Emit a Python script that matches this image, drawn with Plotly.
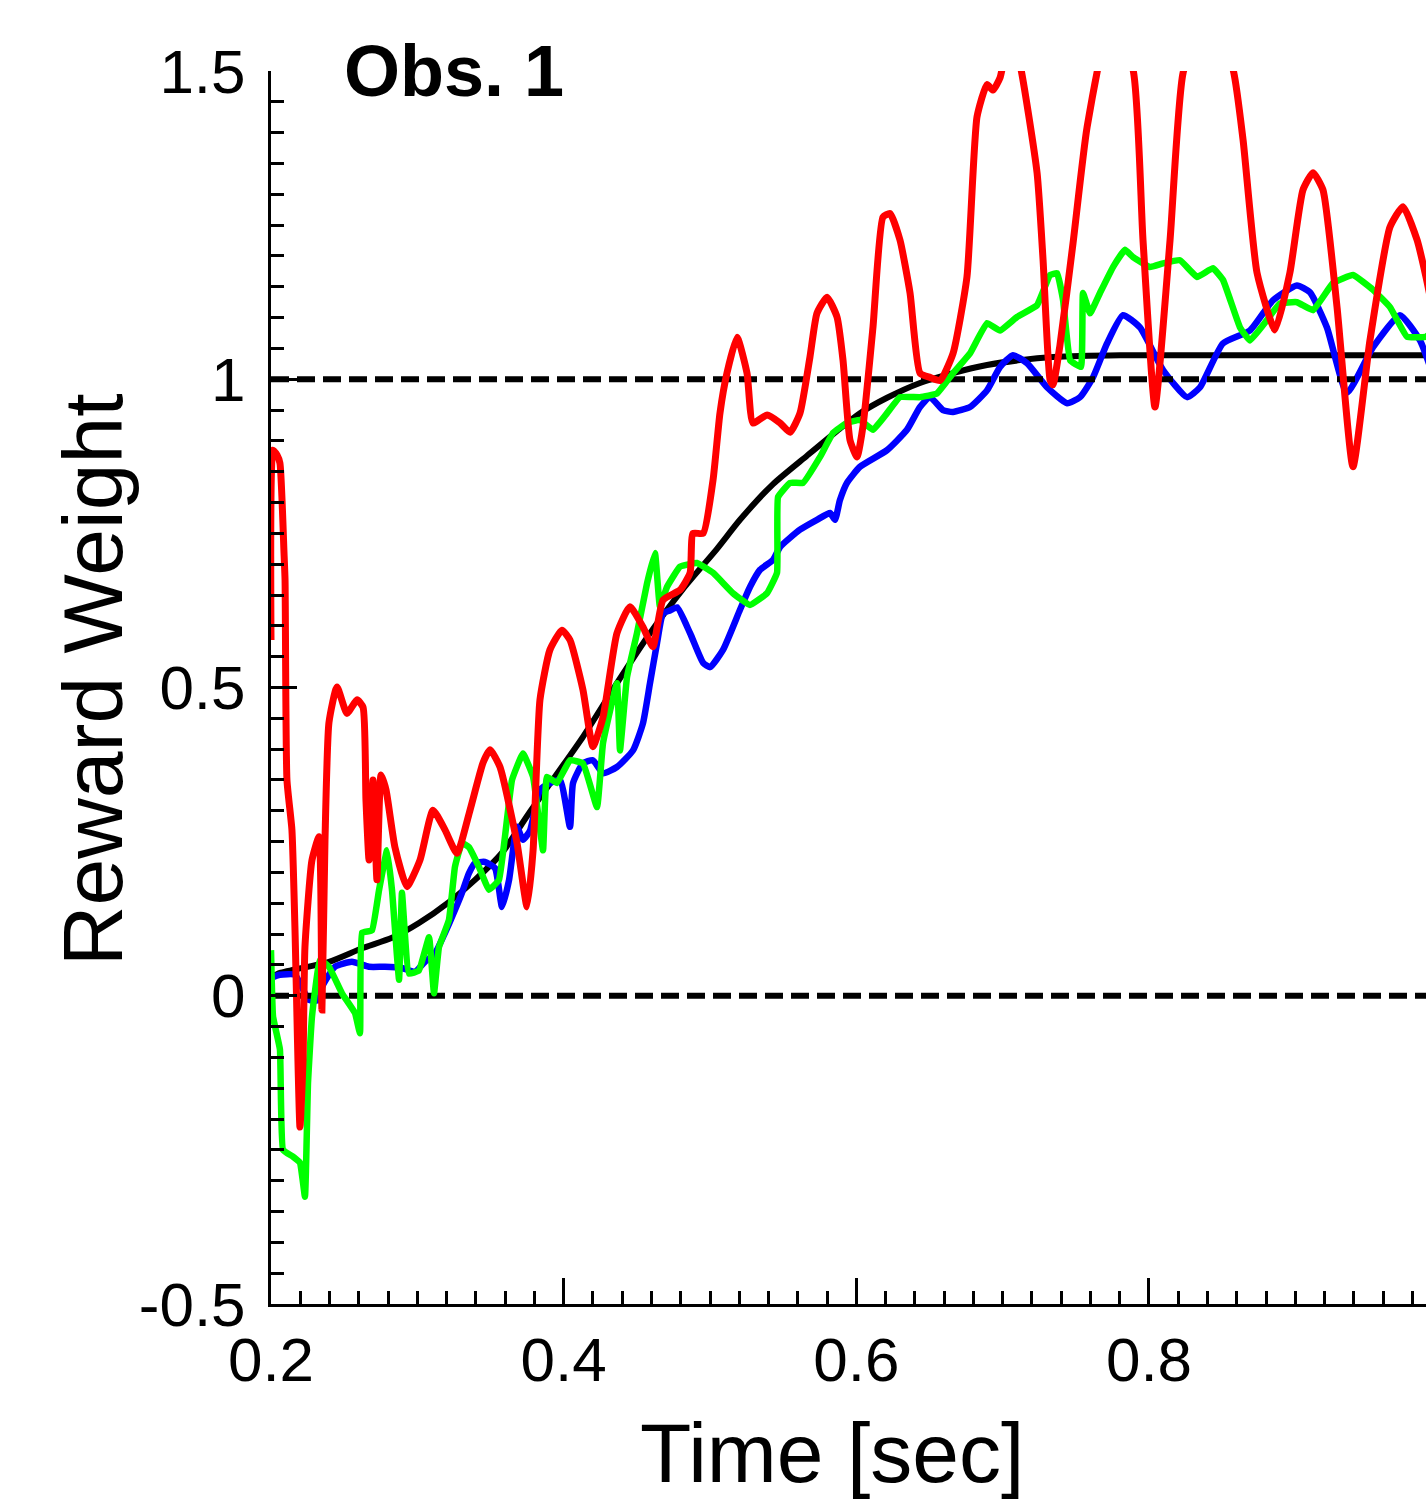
import plotly.graph_objects as go

# reference (desired) weight
t_ref = [0.2000, 0.2062, 0.2396, 0.2622, 0.2827, 0.3011, 0.3216, 0.3394, 0.3579, 0.3763,
         0.4132, 0.4364, 0.4590, 0.4816, 0.5048, 0.5205, 0.5431, 0.5663, 0.5888, 0.6025,
         0.6210, 0.6435, 0.6661, 0.6893, 0.7119, 0.7344, 0.7802, 0.9950]
w_ref = [0.030, 0.037, 0.055, 0.077, 0.094, 0.118, 0.152, 0.188, 0.232, 0.296,
         0.420, 0.507, 0.588, 0.660, 0.725, 0.772, 0.830, 0.876, 0.920, 0.945,
         0.970, 0.994, 1.010, 1.023, 1.031, 1.036, 1.039, 1.039]

t_blue = [0.2000, 0.2061, 0.2164, 0.2260, 0.2328, 0.2348, 0.2437, 0.2553, 0.2670, 0.2779,
          0.2895, 0.2984, 0.3052, 0.3121, 0.3189, 0.3257, 0.3305, 0.3353, 0.3394, 0.3462,
          0.3531, 0.3579, 0.3627, 0.3681, 0.3722, 0.3770, 0.3838, 0.3906, 0.3975, 0.4043,
          0.4064, 0.4132, 0.4200, 0.4269, 0.4364, 0.4474, 0.4542, 0.4590, 0.4638, 0.4679,
          0.4727, 0.4775, 0.4864, 0.4953, 0.5000, 0.5089, 0.5205, 0.5273, 0.5342, 0.5431,
          0.5479, 0.5615, 0.5731, 0.5820, 0.5854, 0.5888, 0.5936, 0.6025, 0.6210, 0.6346,
          0.6435, 0.6503, 0.6592, 0.6661, 0.6777, 0.6893, 0.6982, 0.7071, 0.7167, 0.7303,
          0.7440, 0.7529, 0.7617, 0.7713, 0.7822, 0.7938, 0.8096, 0.8260, 0.8349, 0.8505,
          0.8690, 0.8847, 0.9011, 0.9100, 0.9216, 0.9353, 0.9531, 0.9715, 0.9852, 0.9950]
w_blue = [0.029, 0.034, 0.034, -0.007, -0.007, 0.014, 0.047, 0.055, 0.047, 0.047,
          0.045, 0.039, 0.055, 0.069, 0.102, 0.139, 0.167, 0.199, 0.215, 0.217,
          0.207, 0.144, 0.188, 0.274, 0.253, 0.268, 0.334, 0.345, 0.350, 0.274,
          0.345, 0.377, 0.382, 0.361, 0.371, 0.398, 0.442, 0.507, 0.572, 0.620,
          0.625, 0.630, 0.588, 0.540, 0.533, 0.561, 0.626, 0.663, 0.691, 0.707,
          0.728, 0.756, 0.772, 0.783, 0.772, 0.804, 0.832, 0.858, 0.885, 0.918,
          0.955, 0.971, 0.950, 0.947, 0.955, 0.982, 1.020, 1.039, 1.026, 0.987,
          0.961, 0.971, 1.003, 1.058, 1.104, 1.084, 1.015, 0.971, 0.987, 1.058,
          1.079, 1.128, 1.152, 1.141, 1.084, 0.978, 1.052, 1.104, 1.063, 1.000]

t_green = [0.2000, 0.2014, 0.2061, 0.2082, 0.2150, 0.2198, 0.2232, 0.2253, 0.2280, 0.2335,
           0.2396, 0.2485, 0.2574, 0.2608, 0.2622, 0.2690, 0.2738, 0.2793, 0.2827, 0.2875,
           0.2895, 0.2943, 0.3011, 0.3080, 0.3114, 0.3148, 0.3216, 0.3257, 0.3305, 0.3353,
           0.3421, 0.3490, 0.3558, 0.3647, 0.3722, 0.3791, 0.3859, 0.3886, 0.3954, 0.4043,
           0.4132, 0.4228, 0.4269, 0.4364, 0.4385, 0.4433, 0.4501, 0.4570, 0.4624, 0.4658,
           0.4706, 0.4795, 0.4911, 0.5021, 0.5157, 0.5273, 0.5390, 0.5458, 0.5465, 0.5547,
           0.5636, 0.5752, 0.5841, 0.5936, 0.6025, 0.6114, 0.6210, 0.6298, 0.6435, 0.6551,
           0.6661, 0.6777, 0.6893, 0.6982, 0.7098, 0.7235, 0.7324, 0.7372, 0.7413, 0.7461,
           0.7535, 0.7549, 0.7597, 0.7665, 0.7754, 0.7836, 0.7891, 0.8007, 0.8096, 0.8212,
           0.8328, 0.8437, 0.8506, 0.8622, 0.8690, 0.8806, 0.8895, 0.9011, 0.9121, 0.9257,
           0.9394, 0.9531, 0.9647, 0.9763, 0.9893, 0.9950]
w_green = [0.074, -0.034, -0.087, -0.250, -0.261, -0.271, -0.326, -0.141, -0.034, 0.058,
           0.047, 0.004, -0.028, -0.061, 0.102, 0.106, 0.171, 0.236, 0.171, 0.026,
           0.167, 0.036, 0.041, 0.095, 0.004, 0.079, 0.123, 0.209, 0.248, 0.241,
           0.209, 0.172, 0.188, 0.350, 0.393, 0.355, 0.236, 0.355, 0.345, 0.382,
           0.377, 0.306, 0.410, 0.507, 0.398, 0.517, 0.588, 0.669, 0.718, 0.631,
           0.663, 0.696, 0.702, 0.686, 0.653, 0.634, 0.653, 0.686, 0.809, 0.832,
           0.832, 0.874, 0.913, 0.929, 0.934, 0.918, 0.945, 0.971, 0.971, 0.977,
           1.010, 1.042, 1.091, 1.079, 1.101, 1.120, 1.169, 1.172, 1.128, 1.031,
           1.020, 1.140, 1.107, 1.140, 1.182, 1.210, 1.198, 1.182, 1.188, 1.193,
           1.166, 1.180, 1.161, 1.084, 1.063, 1.096, 1.123, 1.125, 1.112, 1.156,
           1.169, 1.145, 1.117, 1.069, 1.069, 1.080]

t_red = [0.2000, 0.2014, 0.2041, 0.2061, 0.2089, 0.2096, 0.2109, 0.2143, 0.2164, 0.2198,
         0.2219, 0.2232, 0.2280, 0.2328, 0.2348, 0.2369, 0.2396, 0.2451, 0.2519, 0.2588,
         0.2629, 0.2649, 0.2670, 0.2697, 0.2724, 0.2752, 0.2786, 0.2847, 0.2929, 0.3018,
         0.3107, 0.3189, 0.3271, 0.3360, 0.3449, 0.3497, 0.3565, 0.3681, 0.3750, 0.3791,
         0.3838, 0.3906, 0.3988, 0.4043, 0.4132, 0.4200, 0.4269, 0.4364, 0.4453, 0.4542,
         0.4610, 0.4679, 0.4795, 0.4864, 0.4884, 0.4953, 0.5021, 0.5068, 0.5116, 0.5185,
         0.5253, 0.5294, 0.5390, 0.5479, 0.5547, 0.5615, 0.5683, 0.5731, 0.5800, 0.5868,
         0.5909, 0.5957, 0.6005, 0.6045, 0.6114, 0.6182, 0.6230, 0.6298, 0.6367, 0.6435,
         0.6503, 0.6572, 0.6661, 0.6756, 0.6825, 0.6893, 0.6934, 0.6982, 0.7050, 0.7119,
         0.7235, 0.7276, 0.7324, 0.7344, 0.7392, 0.7481, 0.7577, 0.7734, 0.7891, 0.7959,
         0.8041, 0.8144, 0.8233, 0.8404, 0.8575, 0.8643, 0.8738, 0.8861, 0.8963, 0.9052,
         0.9121, 0.9189, 0.9285, 0.9394, 0.9510, 0.9647, 0.9736, 0.9832, 0.9893, 0.9950]
w_red = [0.577, 0.885, 0.877, 0.864, 0.718, 0.674, 0.350, 0.269, 0.107, -0.213,
         -0.104, 0.079, 0.220, 0.258, -0.023, 0.253, 0.443, 0.501, 0.458, 0.480,
         0.468, 0.317, 0.220, 0.350, 0.188, 0.358, 0.334, 0.241, 0.177, 0.220,
         0.301, 0.269, 0.231, 0.301, 0.378, 0.399, 0.371, 0.248, 0.144, 0.236,
         0.480, 0.561, 0.593, 0.577, 0.496, 0.404, 0.452, 0.588, 0.631, 0.598,
         0.566, 0.642, 0.658, 0.686, 0.750, 0.750, 0.837, 0.945, 1.010, 1.068,
         1.010, 0.929, 0.942, 0.929, 0.914, 0.945, 1.036, 1.107, 1.133, 1.101,
         1.031, 0.901, 0.874, 0.923, 1.085, 1.263, 1.269, 1.226, 1.140, 1.010,
         1.003, 0.998, 1.042, 1.166, 1.426, 1.478, 1.469, 1.489, 1.560, 1.510,
         1.335, 1.194, 0.999, 0.991, 1.056, 1.221, 1.409, 1.580, 1.502, 1.226,
         0.955, 1.226, 1.497, 1.600, 1.502, 1.388, 1.173, 1.080, 1.173, 1.307,
         1.335, 1.307, 1.117, 0.858, 1.063, 1.247, 1.280, 1.226, 1.166, 1.100]

bounds = [0, 1]
x_ticks = [0.2, 0.4, 0.6, 0.8]
y_ticks = [-0.5, 0, 0.5, 1, 1.5]
y_tick_text = ["-0.5", "0", "0.5", "1", "1.5"]

FONT = "Liberation Sans, Arial, sans-serif"

fig = go.Figure()

fig.add_trace(go.Scatter(x=t_ref, y=w_ref, mode="lines",
                         line=dict(color="black", width=6, shape="spline", smoothing=0.6)))
fig.add_trace(go.Scatter(x=t_blue, y=w_blue, mode="lines",
                         line=dict(color="#0000ff", width=6.5, shape="spline", smoothing=0.5)))
for b in bounds:
    fig.add_trace(go.Scatter(x=[0.2, 1.0], y=[b, b], mode="lines",
                             line=dict(color="black", width=6, dash="18px,8px")))
fig.add_trace(go.Scatter(x=t_green, y=w_green, mode="lines",
                         line=dict(color="#00ff00", width=6.5, shape="spline", smoothing=0.3)))
fig.add_trace(go.Scatter(x=t_red, y=w_red, mode="lines",
                         line=dict(color="#ff0000", width=7, shape="spline", smoothing=0.5)))

fig.update_layout(
    width=1426, height=1499,
    margin=dict(l=271, r=0, t=71, b=195),
    plot_bgcolor="white", paper_bgcolor="white",
    showlegend=False,
    font=dict(family=FONT, color="black", size=62),
    xaxis=dict(range=[0.2, 0.9893], tickvals=x_ticks, ticks="inside",
               ticklen=26, tickwidth=3, tickcolor="black",
               minor=dict(dtick=0.02, ticks="inside", ticklen=13, tickwidth=3,
                          tickcolor="black"),
               showline=True, linewidth=3, linecolor="black",
               showgrid=False, zeroline=False,
               tickfont=dict(size=62)),
    yaxis=dict(range=[-0.5, 1.5], tickvals=y_ticks, ticktext=y_tick_text,
               ticks="inside", ticklen=26, tickwidth=3, tickcolor="black",
               minor=dict(dtick=0.05, ticks="inside", ticklen=13, tickwidth=3,
                          tickcolor="black"),
               showline=True, linewidth=3, linecolor="black",
               showgrid=False, zeroline=False, ticklabelstandoff=10,
               tickfont=dict(size=62)),
)

fig.add_annotation(text="Time [sec]", xref="x", yref="paper",
                   x=0.5834, y=-0.1205, xanchor="center", yanchor="middle",
                   showarrow=False, font=dict(size=84))
fig.add_annotation(text="Reward Weight", xref="paper", yref="paper",
                   x=-0.154, y=0.506, xanchor="center", yanchor="middle",
                   textangle=-90, showarrow=False, font=dict(size=84))
fig.add_annotation(text="<b>Obs. 1</b>", xref="paper", yref="paper",
                   x=0.1584, y=1.0, xanchor="center", yanchor="middle",
                   showarrow=False, font=dict(size=72))

fig.write_html("out.html", config={"displayModeBar": False},
               post_script="document.body.style.margin='0';")
